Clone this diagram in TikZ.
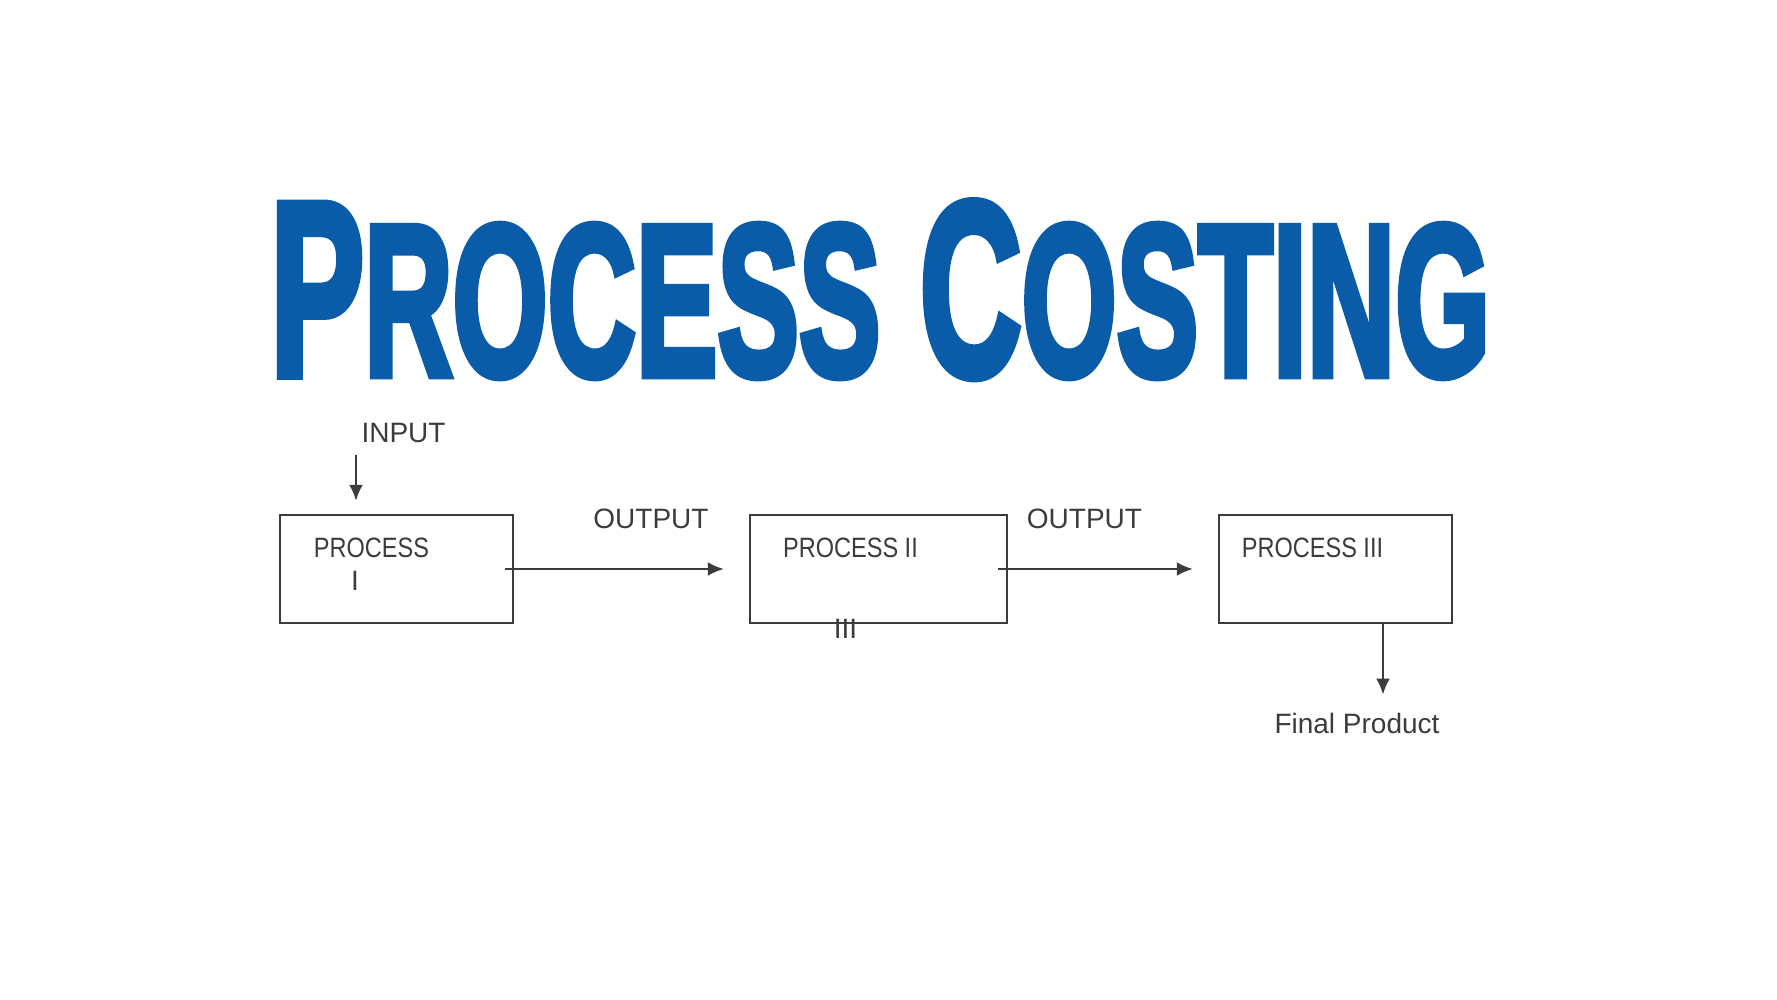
\documentclass[tikz,border=0pt]{standalone}
\usepackage{fontspec}
\setmainfont{Liberation Sans}
\newfontfamily\titlefont{Liberation Sans}[BoldFeatures={FakeBold=4}]
\usetikzlibrary{arrows.meta}
\definecolor{titleblue}{HTML}{0B5CA8}
\definecolor{ink}{HTML}{3C3C3C}
\begin{document}
\begin{tikzpicture}[x=1pt,y=-1pt,
  procbox/.style={draw=ink, line width=2.5pt, minimum width=233pt, minimum height=108pt, inner sep=0pt},
  lbl/.style={text=ink, font=\fontsize{28}{30}\selectfont, inner sep=0pt, anchor=base},
  flow/.style={draw=ink, line width=2.2pt, -{Latex[length=16pt,width=14pt]}}
]
\fill[white] (0,0) rectangle (1777,1000);
\useasboundingbox (0,0) rectangle (1777,1000);

\node[anchor=base west, inner sep=0pt, text=titleblue] (title) at (270,375)
  {\resizebox{1220pt}{173pt}{\titlefont\bfseries\fontsize{100}{100}\selectfont P{\fontsize{86.7}{86.7}\selectfont ROCESS} C{\fontsize{86.7}{86.7}\selectfont OSTING}}};

\node[procbox] (b1) at (396.5,569) {};
\node[procbox, minimum width=257pt] (b2) at (878.5,569) {};
\node[procbox] (b3) at (1335.5,569) {};

\node[lbl] (inp) at (403.5,442) {INPUT};
\node[lbl] (p1) at (371.5,557) {\scalebox{0.84}[1]{PROCESS}};
\node[lbl] (p1n) at (355,590) {I};
\node[lbl] (o1) at (651,528) {OUTPUT};
\node[lbl] (p2) at (850.5,557) {\scalebox{0.84}[1]{PROCESS II}};
\node[lbl] (p2n) at (845.5,638) {III};
\node[lbl] (o2) at (1084.5,528) {OUTPUT};
\node[lbl] (p3) at (1312.5,557) {\scalebox{0.84}[1]{PROCESS III}};
\node[lbl] (fp) at (1357,733) {Final Product};

\coordinate (inTail) at (356,455);
\draw[flow] (inTail) -- ([xshift=-40.5pt,yshift=13pt]b1.north);
\draw[flow] ([xshift=-9pt]b1.east) -- ([xshift=-25pt]b2.west);
\draw[flow] ([xshift=-10pt]b2.east) -- ([xshift=-25pt]b3.west);
\draw[flow] ([xshift=47.5pt]b3.south) -- ([xshift=26pt,yshift=18pt]fp.north);
\end{tikzpicture}
\end{document}
